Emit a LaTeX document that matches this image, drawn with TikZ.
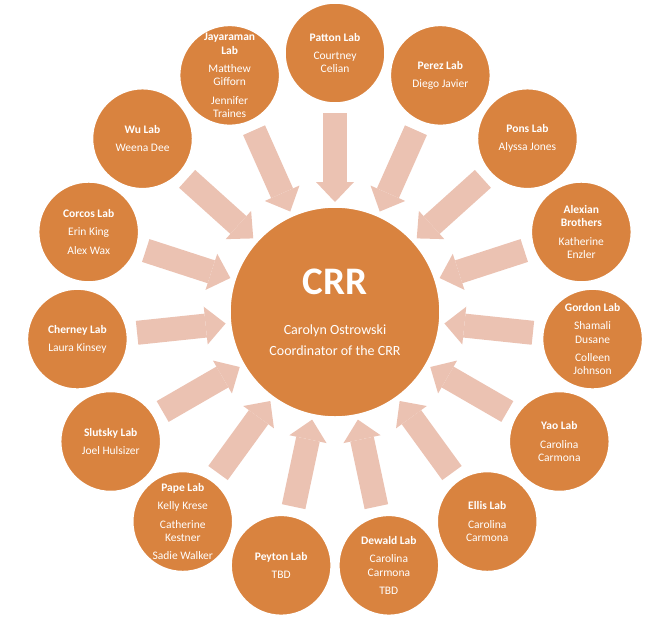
\documentclass[tikz,border=0pt]{standalone}
\usepackage{fontspec}
\setmainfont{Carlito}
\usetikzlibrary{arrows.meta}
\definecolor{crrorange}{HTML}{D9833F}
\definecolor{arrowpink}{HTML}{EBC2B2}
\tikzset{
  blockarrow/.style={draw=arrowpink, line width=24pt, shorten <=10pt, shorten >=5pt,
    -{Triangle[width=38pt, length=20pt, line width=0pt]}}
}
\begin{document}
\begin{tikzpicture}[x=1pt, y=1pt, every node/.style={circle, fill=crrorange, draw=white, line width=1.5pt, text=white, inner sep=0pt, outer sep=0pt, align=center, minimum size=100pt, font=\fontsize{11.5}{13.3}\selectfont}]

\useasboundingbox (-335,-318) rectangle (328,312);

\node[minimum size=210pt, font=\fontsize{14}{21}\selectfont] (crr) at (0,0) {{\fontsize{39}{39}\selectfont\bfseries CRR}\\[19pt]Carolyn Ostrowski\\Coordinator of the CRR};

\node (lab0) at (0*-24+90:259) {\textbf{Patton Lab}\\[5pt]Courtney\\Celian};
\node (lab1) at (1*-24+90:259) {\textbf{Perez Lab}\\[5pt]Diego Javier};
\node (lab2) at (2*-24+90:259) {\textbf{Pons Lab}\\[5pt]Alyssa Jones};
\node (lab3) at (3*-24+90:259) {\textbf{Alexian}\\\textbf{Brothers}\\[5pt]Katherine\\Enzler};
\node (lab4) at (4*-24+90:259) {\textbf{Gordon Lab}\\[5pt]Shamali\\Dusane\\[5pt]Colleen\\Johnson};
\node (lab5) at (5*-24+90:259) {\textbf{Yao Lab}\\[5pt]Carolina\\Carmona};
\node (lab6) at (6*-24+90:259) {\textbf{Ellis Lab}\\[5pt]Carolina\\Carmona};
\node (lab7) at (7*-24+90:259) {\textbf{Dewald Lab}\\[5pt]Carolina\\Carmona\\[5pt]TBD};
\node (lab8) at (8*-24+90:259) {\textbf{Peyton Lab}\\[5pt]TBD};
\node (lab9) at (9*-24+90:259) {\textbf{Pape Lab}\\[5pt]Kelly Krese\\[5pt]Catherine\\Kestner\\[5pt]Sadie Walker};
\node (lab10) at (10*-24+90:259) {\textbf{Slutsky Lab}\\[5pt]Joel Hulsizer};
\node (lab11) at (11*-24+90:259) {\textbf{Cherney Lab}\\[5pt]Laura Kinsey};
\node (lab12) at (12*-24+90:259) {\textbf{Corcos Lab}\\[5pt]Erin King\\[5pt]Alex Wax};
\node (lab13) at (13*-24+90:259) {\textbf{Wu Lab}\\[5pt]Weena Dee};
\node (lab14) at (14*-24+90:259) {\textbf{Jayaraman}\\\textbf{Lab}\\[5pt]Matthew\\Gifforn\\[5pt]Jennifer\\Traines};

\foreach \i in {0,...,14} {
    \draw[blockarrow] (lab\i) -- (crr);
}

\end{tikzpicture}
\end{document}
